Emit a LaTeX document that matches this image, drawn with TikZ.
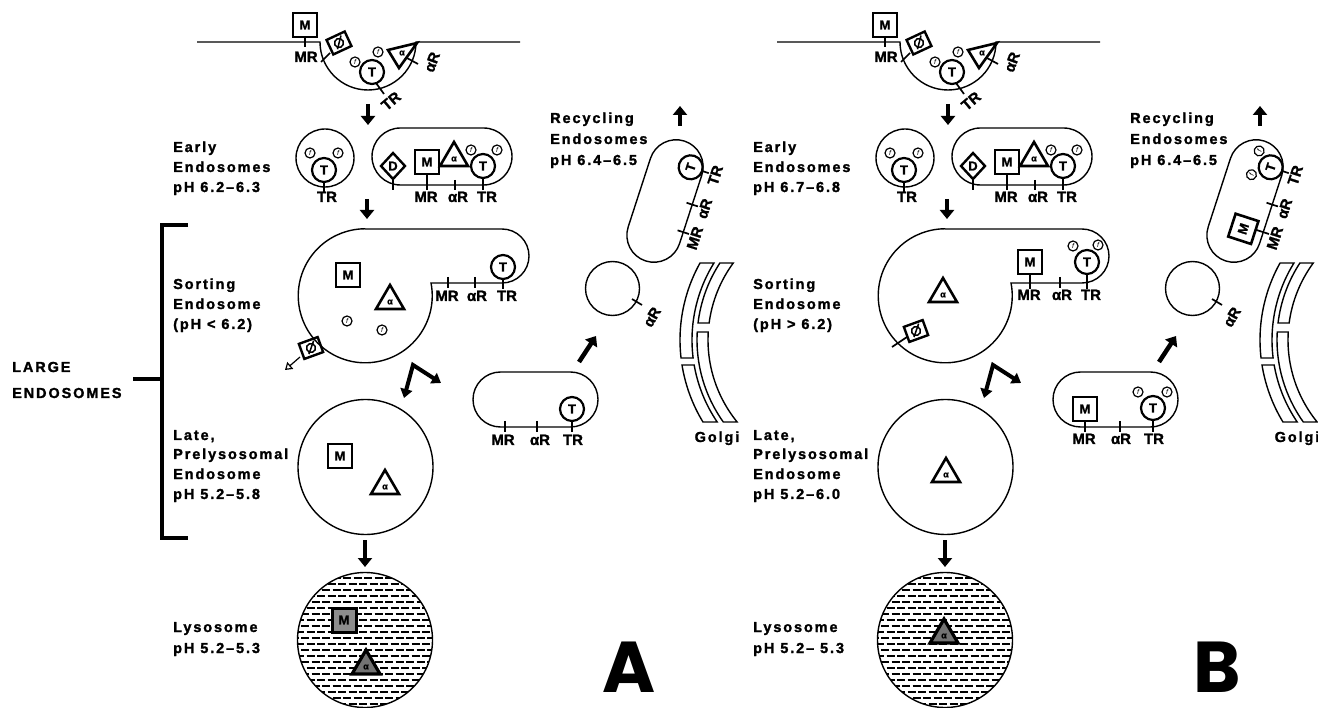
\documentclass[tikz,border=0pt]{standalone}
\usepackage{fontspec}
\setmainfont{Liberation Sans}
\newfontfamily\lblfont[LetterSpace=13, FakeBold=1.6]{Liberation Sans Bold}
\newfontfamily\rfam[FakeBold=1.2]{Liberation Sans Bold}
\newfontfamily\bigfont{Poppins}
\usetikzlibrary{arrows.meta}

\newcommand\txtf{\lblfont\fontsize{14.5}{18}\selectfont}
\newcommand\rfnt{\rfam\fontsize{15}{15}\selectfont}
\newcommand\mfnt{\rfam\fontsize{13}{13}\selectfont}
\newcommand\ffnt{\itshape\fontsize{7}{7}\selectfont}
\newcommand\afnt{\rfam\fontsize{9}{9}\selectfont}
\newcommand\aR{αR}

\tikzset{
  mem/.style={line width=1.4pt},
  tick/.style={line width=1.7pt},
  txt/.style={font=\txtf, anchor=base west, inner sep=0pt},
  rl/.style={font=\rfnt, anchor=base, inner sep=0pt},
  rlc/.style={font=\rfnt, inner sep=0pt},
  blk/.style={line width=4.5pt, -{Triangle[width=14pt,length=9pt]}},
  mbx/.pic={\draw[line width=2.6pt] (-12,-12) rectangle (12,12);
            \node[font=\mfnt, inner sep=0pt] (-l) at (0,0) {M};},
  mbxd/.pic={\draw[line width=3pt, fill=black!45] (-12,-12) rectangle (12,12);
            \node[font=\mfnt, inner sep=0pt] (-l) at (0,0) {M};},
  tcr/.pic={\draw[line width=2.2pt, fill=white] (0,0) circle[radius=12];
            \node[font=\mfnt, inner sep=0pt] (-l) at (0,0) {T};},
  fcr/.pic={\draw[line width=1.2pt, fill=white] (0,0) circle[radius=5];
            \node[font=\ffnt, inner sep=0pt] (-l) at (0,0) {f};},
  tri/.pic={\draw[line width=2.6pt, line join=miter] (-14,9) -- (14,9) -- (0,-15) -- cycle;
            \node[font=\afnt, inner sep=0pt] (-l) at (0,2) {α};},
  trid/.pic={\draw[line width=3.2pt, line join=miter, fill=black!55] (-14,9) -- (14,9) -- (0,-15) -- cycle;
            \node[font=\afnt, inner sep=0pt] (-l) at (0,2) {α};},
  dmd/.pic={\draw[line width=2.4pt] (0,-13) -- (12,0) -- (0,13) -- (-12,0) -- cycle;
            \node[font=\mfnt, inner sep=0pt] (-l) at (0,0) {D};},
  dso/.pic={\draw[line width=2.4pt] (-10,-8) rectangle (10,8);
            \draw[line width=1.5pt] (0,0) circle[radius=4.5];
            \draw[line width=1.5pt] (-4,5) -- (5,-6);},
}

% one curved Golgi cisterna: inner radius, outer radius, top and bottom offsets
\newcommand\gpiece[4]{%
  \draw[mem] ({180-asin(#3/#2)}:#2)
    arc[start angle={180-asin(#3/#2)}, end angle={180-asin(#4/#2)}, radius=#2]
    -- ({180-asin(#4/#1)}:#1)
    arc[start angle={180-asin(#4/#1)}, end angle={180-asin(#3/#1)}, radius=#1] -- cycle;}

% parts shared by both panels
\newcommand\panelbase[1]{%
  % plasma membrane and coated pit
  \draw[mem] (197,42) -- (320,42) arc[start angle=180, end angle=0, radius=48] -- (520,42);
  \pic at (305,25) {mbx};
  \draw[tick] (305,37) -- (305,47);
  \node[rl] (#1pitMR) at (306,62) {MR};
  \pic[rotate=25, transform shape] at (339,43) {dso};
  \draw[tick] (330,53) -- (321,62);
  \pic at (372,72) {tcr};
  \pic at (355,62) {fcr};
  \pic at (378,52) {fcr};
  \draw[tick] (376,83) -- (384,94);
  \node[rlc, rotate=40] (#1pitTR) at (391,101) {TR};
  \draw[line width=2.6pt, line join=miter] (388,50) -- (417,43) -- (399,68) -- cycle;
  \node[font=\afnt, inner sep=0pt] (#1pitA) at (402,53) {α};
  \draw[tick] (407,58) -- (418,64);
  \node[rlc, rotate=70] (#1pitAR) at (432,62) {\aR};
  % early endosomes
  \draw[mem] (325,158) circle[radius=29];
  \pic at (324,170) {tcr};
  \pic at (310,153) {fcr};
  \pic at (338,153) {fcr};
  \draw[tick] (324,182) -- (324,192);
  \node[rl] (#1eTR) at (327,202) {TR};
  \draw[mem, rounded corners=28.5pt] (372,128) rectangle (512,185);
  \pic at (393,166) {dmd};
  \draw[tick] (393,179) -- (393,190);
  \pic at (427,162) {mbx};
  \draw[tick] (427,174) -- (427,190);
  \node[rl] (#1eMR2) at (426,202) {MR};
  \pic at (454,157) {tri};
  \draw[tick] (455,180) -- (455,190);
  \node[rl] (#1eAR2) at (458,202) {\aR};
  \pic at (483,166) {tcr};
  \pic at (471,150) {fcr};
  \pic at (497,150) {fcr};
  \draw[tick] (483,178) -- (483,190);
  \node[rl] (#1eTR2) at (487,202) {TR};
  % sorting endosome with its tubule
  \draw[mem] (365,229) -- (502,229) arc[start angle=-90, end angle=90, radius=27]
     -- (431,283) arc[start angle=-11, end angle=270, radius=67];
  % late endosome
  \draw[mem] (365.5,467) circle[radius=67.5];
  % lysosome, filled with rows of dashes
  \begin{scope}
    \clip (365,640) circle[radius=67.5];
    \foreach \k in {0,...,23}{
      \pgfmathsetmacro\ph{mod(\k,2)*5.5}
      \draw[line width=1.3pt, dash pattern=on 8pt off 2.5pt, dash phase=\ph pt]
        (296,{572+\k*6}) -- (436,{572+\k*6});
    }
  \end{scope}
  \draw[mem] (365,640) circle[radius=67.5];
  % tubular carrier
  \draw[mem, rounded corners=27.5pt] (473,372) rectangle (598,427);
  % small vesicle
  \draw[mem] (612.5,288.5) circle[radius=27];
  \draw[tick] (632,299) -- (642,305);
  \node[rlc, rotate=60] (#1vAR) at (652,317) {\aR};
  % recycling endosome outline
  \begin{scope}[shift={(665,201)}, rotate=72]
    \draw[mem, rounded corners=27pt] (-63,-27) rectangle (63,27);
  \end{scope}
  % Golgi stack
  \begin{scope}[shift={(838,340)}]
    \gpiece{146}{158}{-77}{18}
    \gpiece{146}{158}{25}{82}
    \gpiece{130}{141}{-77}{-17}
    \gpiece{130}{141}{-8}{82}
  \end{scope}
  \node[txt, anchor=base] (#1golgi) at (717,442) {Golgi};
  % traffic arrows
  \draw[blk] (368,104) -- (368,125);
  \draw[blk] (367,199) -- (367,219);
  \draw[blk] (365,540) -- (365,567);
  \draw[blk] (579,362) -- (596,336);
  \draw[blk] (680,126) -- (680,106);
  \draw[line width=4pt, line join=miter,
        {Triangle[width=12pt,length=9pt]}-{Triangle[width=12pt,length=9pt]}]
        (404,398) -- (413,365) -- (441,383);
  % compartment names
  \node[txt] (#1t1) at (173,152) {Early};
  \node[txt] (#1t2) at (173,172) {Endosomes};
  \node[txt] (#1t4) at (173,289) {Sorting};
  \node[txt] (#1t5) at (173,309) {Endosome};
  \node[txt] (#1t7) at (173,440) {Late,};
  \node[txt] (#1t8) at (173,459) {Prelysosomal};
  \node[txt] (#1t9) at (173,479) {Endosome};
  \node[txt] (#1t11) at (173,632) {Lysosome};
  \node[txt] (#1r1) at (550,123) {Recycling};
  \node[txt] (#1r2) at (550,144) {Endosomes};
  \node[txt] (#1r3) at (550,165) {pH 6.4–6.5};
}

\begin{document}
\begin{tikzpicture}[x=1pt, y=-1pt]
\useasboundingbox (0,0) rectangle (1318,708);
\clip (0,0) rectangle (1318,708);

%% ---------------- panel A ----------------
\panelbase{A}
\node[txt] (At3) at (173,192) {pH 6.2–6.3};
\node[txt] (At6) at (173,329) {(pH < 6.2)};
\node[txt] (At10) at (173,499) {pH 5.2–5.8};
\node[txt] (At12) at (173,653) {pH 5.2–5.3};
% sorting endosome contents
\pic at (348,275) {mbx};
\pic at (390,300) {tri};
\pic at (347,321) {fcr};
\pic at (382,330) {fcr};
\pic[rotate=20, transform shape] at (311,348) {dso};
\draw[line width=1.2pt, -{Triangle[open, width=9pt, length=7pt]}] (300,357) -- (285,370);
\pic at (503,267) {tcr};
\draw[tick] (503,279) -- (503,289);
\draw[tick] (448,277) -- (448,288);
\draw[tick] (475,277) -- (475,288);
\node[rl] (AsMR) at (447,301) {MR};
\node[rl] (AsAR) at (477,301) {\aR};
\node[rl] (AsTR) at (507,301) {TR};
% late endosome and lysosome contents
\pic at (340,456) {mbx};
\pic at (385,485) {tri};
\pic at (344,620) {mbxd};
\pic at (366,665) {trid};
% tubular carrier contents
\pic at (572,409) {tcr};
\draw[tick] (572,421) -- (572,432);
\draw[tick] (505,421) -- (505,432);
\draw[tick] (537,421) -- (537,432);
\node[rl] (AtMR) at (503,445) {MR};
\node[rl] (AtAR) at (540,445) {\aR};
\node[rl] (AtTR) at (573,445) {TR};
% recycling endosome contents
\begin{scope}[shift={(665,201)}, rotate=72]
  \pic[transform shape] at (40,14) {tcr};
  \draw[tick] (40,26) -- (40,33);
  \draw[tick] (5,21) -- (5,33);
  \draw[tick] (-24,21) -- (-24,33);
  \node[rl, rotate=72] (ArTR) at (40,45) {TR};
  \node[rl, rotate=72] (ArAR) at (5,45) {\aR};
  \node[rl, rotate=72] (ArMR) at (-26,45) {MR};
\end{scope}
% large endosome bracket
\draw[line width=4pt] (188,225) -- (162,225) -- (162,538) -- (188,538);
\draw[line width=4pt] (133,379) -- (162,379);
\node[txt] (large1) at (12,372) {LARGE};
\node[txt] (large2) at (12,398) {ENDOSOMES};
\node[font=\bigfont\bfseries\fontsize{72}{72}\selectfont, inner sep=0pt, anchor=base] (lettA) at (629,692) {A};

%% ---------------- panel B ----------------
\begin{scope}[xshift=580pt]
\panelbase{B}
\node[txt] (Bt3) at (173,192) {pH 6.7–6.8};
\node[txt] (Bt6) at (173,329) {(pH > 6.2)};
\node[txt] (Bt10) at (173,499) {pH 5.2–6.0};
\node[txt] (Bt12) at (173,653) {pH 5.2– 5.3};
% sorting endosome contents
\pic at (363,293) {tri};
\pic[rotate=20, transform shape] at (336,331) {dso};
\draw[tick] (312,347) -- (327,337);
\pic at (450,262) {mbx};
\draw[tick] (450,274) -- (450,289);
\draw[tick] (480,277) -- (480,288);
\pic at (507,262) {tcr};
\pic at (493,246) {fcr};
\pic at (518,245) {fcr};
\draw[tick] (507,274) -- (507,289);
\node[rl] (BsMR) at (449,300) {MR};
\node[rl] (BsAR) at (482,300) {\aR};
\node[rl] (BsTR) at (511,300) {TR};
% late endosome and lysosome contents
\pic at (366,473) {tri};
\pic at (364,634) {trid};
% tubular carrier contents
\pic at (505,409) {mbx};
\draw[tick] (505,421) -- (505,432);
\draw[tick] (540,421) -- (540,432);
\pic at (573,408) {tcr};
\pic at (558,392) {fcr};
\pic at (587,392) {fcr};
\draw[tick] (573,420) -- (573,432);
\node[rl] (BtMR) at (504,444) {MR};
\node[rl] (BtAR) at (541,444) {\aR};
\node[rl] (BtTR) at (574,444) {TR};
% recycling endosome contents
\begin{scope}[shift={(665,201)}, rotate=72]
  \pic[transform shape] at (-27,7) {mbx};
  \draw[tick] (-24,19) -- (-24,33);
  \pic[transform shape] at (40,14) {tcr};
  \pic[transform shape] at (52,-2) {fcr};
  \pic[transform shape] at (27,-2) {fcr};
  \draw[tick] (40,26) -- (40,33);
  \draw[tick] (5,21) -- (5,33);
  \node[rl, rotate=72] (BrTR) at (40,45) {TR};
  \node[rl, rotate=72] (BrAR) at (5,45) {\aR};
  \node[rl, rotate=72] (BrMR) at (-26,45) {MR};
\end{scope}
\node[font=\bigfont\bfseries\fontsize{72}{72}\selectfont, inner sep=0pt, anchor=base] (lettB) at (637,692) {B};
\end{scope}
\end{tikzpicture}
\end{document}
